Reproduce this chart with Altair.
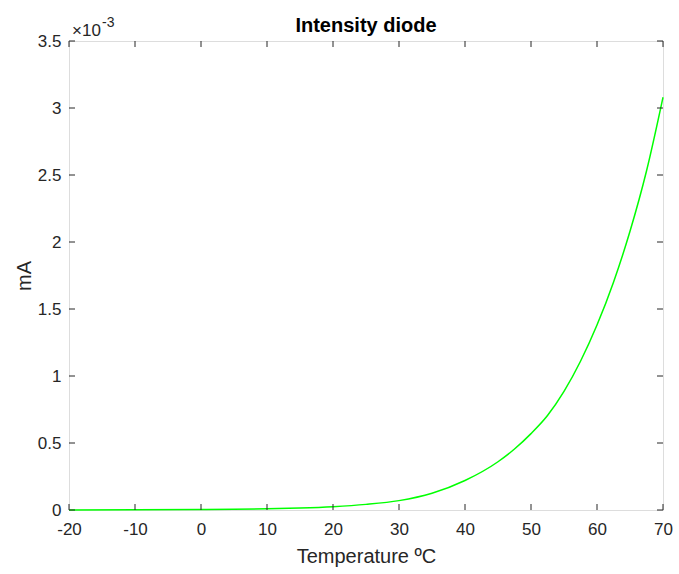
import altair as alt
import pandas as pd

# Data (current in units of 1e-3 mA)
temps = [-20, -10, 0, 5, 10, 15, 20, 25, 30, 35, 40, 45, 47.5, 50, 52.5, 55, 57.5, 60, 62.5, 65, 67.5, 70]
current = [0.0003, 0.001, 0.003, 0.005, 0.009, 0.015, 0.025, 0.042, 0.07, 0.125, 0.22, 0.36, 0.455, 0.57,
           0.705, 0.885, 1.11, 1.38, 1.70, 2.08, 2.53, 3.08]
x_ticks = [-20, -10, 0, 10, 20, 30, 40, 50, 60, 70]
y_ticks = [0, 0.5, 1, 1.5, 2, 2.5, 3, 3.5]

W, H = 594, 469
FONT = "Liberation Sans"
AX = "#262626"
TL = 6

df = pd.DataFrame({"T": temps, "I": current})
xt = pd.DataFrame({"T": x_ticks})
yt = pd.DataFrame({"I": y_ticks})

xs = alt.Scale(domain=[-20, 70], nice=False, zero=False)
ys = alt.Scale(domain=[0, 3.5], nice=False, zero=False)

xaxis = alt.Axis(
    values=x_ticks, title="Temperature ºC", labelExpr="'' + datum.value",
    domain=False, ticks=False, tickSize=0, grid=False, labelFlush=False,
    labelFont=FONT, labelFontSize=17, labelColor=AX, labelPadding=11,
    titleFont=FONT, titleFontSize=20, titleFontWeight="normal", titleColor=AX, titlePadding=9)
yaxis = alt.Axis(
    values=y_ticks, title="mA", labelExpr="'' + datum.value",
    domain=False, ticks=False, tickSize=0, grid=False, labelFlush=False,
    labelFont=FONT, labelFontSize=17, labelColor=AX, labelPadding=8,
    titleFont=FONT, titleFontSize=20, titleFontWeight="normal", titleColor=AX, titlePadding=3)

X = alt.X("T:Q", scale=xs, axis=xaxis)
Y = alt.Y("I:Q", scale=ys, axis=yaxis)

line = alt.Chart(df).mark_line(color="#00ff00", strokeWidth=1.5, interpolate="monotone").encode(x=X, y=Y)

bx = alt.Chart(xt).mark_rule(color=AX, strokeWidth=1).encode(
    x=X, y=alt.value(H), y2=alt.value(H - TL))
tx = alt.Chart(xt).mark_rule(color=AX, strokeWidth=1).encode(
    x=X, y=alt.value(0), y2=alt.value(TL))
ly = alt.Chart(yt).mark_rule(color=AX, strokeWidth=1).encode(
    y=Y, x=alt.value(0), x2=alt.value(TL))
ry = alt.Chart(yt).mark_rule(color=AX, strokeWidth=1).encode(
    y=Y, x=alt.value(W), x2=alt.value(W - TL))

mult = alt.Chart(pd.DataFrame({"t": ["×10"]})).mark_text(
    font=FONT, fontSize=17, color=AX, align="left", baseline="alphabetic").encode(
    text="t:N", x=alt.value(3), y=alt.value(-5))
expo = alt.Chart(pd.DataFrame({"t": ["-3"]})).mark_text(
    font=FONT, fontSize=14, color=AX, align="left", baseline="alphabetic").encode(
    text="t:N", x=alt.value(33), y=alt.value(-14))
title = alt.Chart(pd.DataFrame({"t": ["Intensity diode"]})).mark_text(
    font=FONT, fontSize=20, fontWeight="bold", color="#000000", align="center", baseline="alphabetic").encode(
    text="t:N", x=alt.value(W / 2), y=alt.value(-9))

chart = alt.layer(line, bx, tx, ly, ry, mult, expo, title).properties(
    width=W, height=H,
    autosize="none",
    padding={"left": 69, "top": 41, "right": 16, "bottom": 64},
).configure_view(stroke=AX, strokeWidth=1).configure(background="white")

chart.save("out.html", embed_options={"renderer": "svg", "actions": False})
